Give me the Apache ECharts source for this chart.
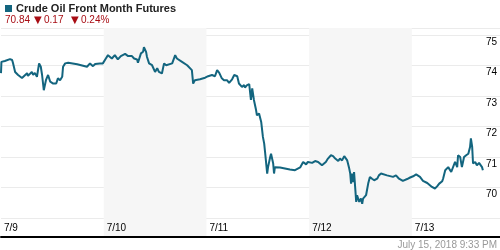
<!DOCTYPE html>
<html><head><meta charset="utf-8">
<script src="https://cdn.jsdelivr.net/npm/echarts@6/dist/echarts.min.js"></script>
<style>html,body{margin:0;padding:0;background:#fff}#c{width:500px;height:250px}</style>
</head><body><div id="c"></div>
<script>
// Day labels (x axis ticks every 24 hours from 7/9 00:00)
var dayLabels = ['7/9', '7/10', '7/11', '7/12', '7/13'];
// Time in hours since 7/9 00:00
var hours = [0.0,0.1,0.9,2.1,2.6,2.8,3.3,4.0,4.9,5.1,6.1,6.3,7.2,7.5,7.9,8.4,8.9,9.3,9.6,10.0,10.5,11.0,11.2,11.5,12.2,12.4,12.9,13.3,13.8,14.3,14.5,15.0,15.7,17.8,20.1,20.8,21.5,22.0,23.1,23.8,24.5,25.0,25.9,26.6,27.3,28.0,
29.0,29.7,30.6,31.1,31.8,32.0,32.7,33.2,33.4,33.9,34.1,34.6,35.3,35.5,36.0,36.5,36.9,37.6,38.1,38.6,39.0,40.0,40.2,40.7,41.1,42.3,43.5,44.6,44.9,45.3,46.5,47.7,48.4,49.3,50.0,50.5,51.0,51.6,52.1,52.8,53.3,54.0,54.5,55.2,55.6,56.3,56.8,
57.0,57.5,57.7,58.0,58.4,58.7,58.9,59.1,59.6,59.8,60.3,60.8,61.2,61.5,61.7,62.2,62.4,62.9,63.1,63.6,63.8,64.0,65.2,67.5,68.7,69.9,
70.6,71.3,71.7,72.7,73.4,74.1,75.0,75.2,75.9,76.4,77.1,77.6,78.1,78.5,78.8,79.2,79.7,80.2,80.6,80.9,81.3,81.6,81.8,82.0,82.3,82.5,83.0,83.2,83.4,83.7,84.1,84.4,84.6,85.3,85.8,86.2,86.7,87.2,87.9,88.3,88.8,90.2,91.6,92.3,93.0,
93.9,94.9,95.6,96.3,97.0,97.9,98.6,99.6,100.0,100.7,101.0,101.4,101.9,102.4,103.1,103.3,103.8,104.2,104.5,105.2,105.6,106.1,106.6,106.8,107.3,107.7,108.2,108.7,109.2,109.6,109.8,110.1,110.3,110.8,111.2,111.7,112.4,112.6];
// Price (USD per barrel)
var prices = [73.75,74.12,74.15,74.21,74.18,74.08,73.79,73.69,73.59,73.63,73.75,73.66,73.79,73.69,73.76,73.63,74.07,73.96,73.69,73.19,73.52,73.69,73.74,73.47,73.41,73.47,73.41,73.58,73.52,73.63,73.96,74.07,74.09,74.04,73.96,74.07,73.98,74.05,74.07,74.07,74.23,74.34,74.23,74.34,74.20,74.31,
74.38,74.31,74.31,74.23,74.20,74.09,74.40,74.45,74.60,74.45,74.29,74.07,74.01,74.07,73.79,73.91,73.79,73.74,74.07,74.01,74.07,74.07,74.09,74.34,74.23,74.12,74.01,73.85,73.41,73.52,73.55,73.60,73.65,73.69,73.65,73.85,73.76,73.58,73.52,73.52,73.43,73.55,73.69,73.65,73.41,73.30,73.36,
73.28,73.36,73.30,73.39,72.87,73.25,73.19,72.87,72.54,72.37,72.43,72.15,71.66,71.44,71.17,70.46,70.67,71.00,71.11,70.79,70.46,70.67,70.66,70.59,70.57,70.66,
70.84,70.76,70.84,70.81,70.87,70.84,70.73,70.67,70.84,70.95,71.06,71.03,70.95,71.00,70.87,70.95,70.89,71.03,71.06,70.89,70.67,70.46,70.13,70.46,70.18,70.51,69.53,69.75,69.80,69.53,69.64,69.47,69.64,69.75,70.13,70.35,70.29,70.24,70.29,70.40,70.46,70.40,70.35,70.40,70.29,
70.22,70.28,70.33,70.37,70.43,70.35,70.22,70.15,70.11,70.02,70.07,69.97,70.04,70.13,70.21,70.29,70.57,70.54,70.67,70.51,70.57,70.84,70.67,71.06,71.00,70.67,71.00,71.06,71.11,71.33,71.61,71.33,70.79,70.84,70.73,70.81,70.67,70.57];
var yTickValues = [69, 70, 71, 72, 73, 74, 75];
var titleText = 'Crude Oil Front Month Futures';
var lastPrice = '70.84', change = '0.17', changePct = '0.24%';
var stamp = 'July 15, 2018 9:33 PM';

var series = hours.map(function (h, i) { return [h, prices[i]]; });
var chart = echarts.init(document.getElementById('c'), null, {renderer: 'canvas'});
var font = 'Arial, "Liberation Sans", sans-serif';
var red = '#a80d14';
chart.setOption({
  animation: false,
  grid: {left: 1, right: 0, top: 28, bottom: 13},
  xAxis: {
    type: 'value', min: 0, max: 116.6, interval: 24,
    axisLine: {show: true, lineStyle: {color: '#000', width: 2}},
    axisTick: {show: false},
    splitLine: {show: false},
    splitArea: {show: true, areaStyle: {color: ['rgba(255,255,255,0)', '#f6f6f6']}},
    axisLabel: {
      inside: true, margin: 4, align: 'left', padding: [0, 0, 0, 3],
      showMaxLabel: false, color: '#000', fontSize: 10, fontFamily: font,
      formatter: function (v) { return dayLabels[Math.round(v / 24)] || ''; }
    }
  },
  yAxis: {
    type: 'value', position: 'right', min: 68.38, max: 75.23,
    minInterval: 1, maxInterval: 1,
    axisLine: {show: false}, axisTick: {show: false},
    splitLine: {show: true, lineStyle: {color: '#ebebeb', width: 1}},
    axisLabel: {
      inside: true, margin: 3, verticalAlign: 'top', padding: [2, 0, 0, 0],
      showMinLabel: false, showMaxLabel: false, color: '#000', fontSize: 10, fontFamily: font,
      formatter: function (v) { return yTickValues.indexOf(v) >= 0 && v !== 69 ? String(v) : ''; }
    }
  },
  series: [{
    type: 'line', data: series, showSymbol: false, symbol: 'none',
    lineStyle: {color: '#13657f', width: 2}, z: 3
  }],
  graphic: [
    {type: 'rect', left: 5, top: 5, shape: {width: 7, height: 7}, style: {fill: '#13657f'}},
    {type: 'text', left: 16, top: 3, style: {text: titleText, font: 'bold 11px ' + font, fill: '#222'}},
    {type: 'text', left: 5, top: 15, style: {text: lastPrice, font: '10px ' + font, fill: red}},
    {type: 'text', left: 34, top: 15, style: {text: '\u25BC', font: '10px "DejaVu Sans", sans-serif', fill: red}},
    {type: 'text', left: 44, top: 15, style: {text: change, font: '10px ' + font, fill: red}},
    {type: 'text', left: 71, top: 15, style: {text: '\u25BC', font: '10px "DejaVu Sans", sans-serif', fill: red}},
    {type: 'text', left: 81, top: 15, style: {text: changePct, font: '10px ' + font, fill: red}},
    {type: 'text', right: 3, top: 240, style: {text: stamp, font: '10px ' + font, fill: '#999'}}
  ]
});
</script></body></html>
